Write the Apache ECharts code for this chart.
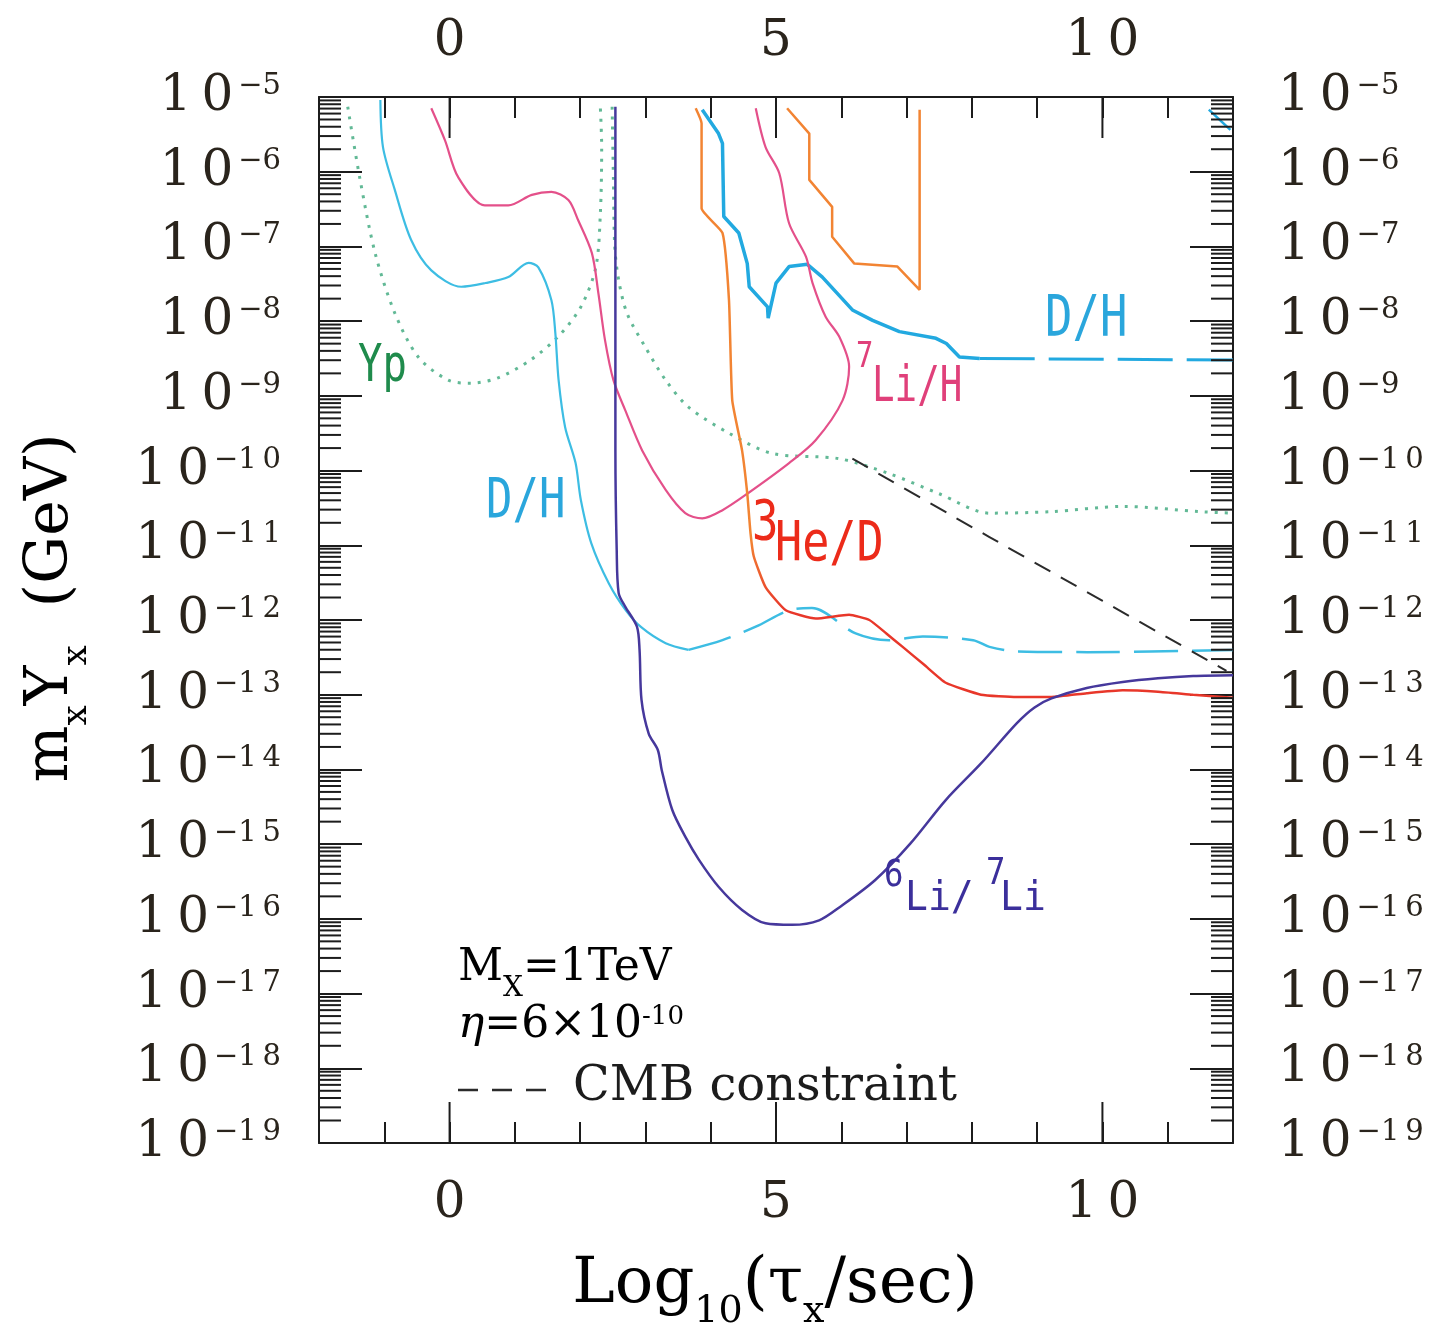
<!DOCTYPE html>
<html>
<head>
<meta charset="utf-8">
<title>m_X Y_X vs lifetime</title>
<script src="https://cdn.jsdelivr.net/npm/echarts@6/dist/echarts.min.js"></script>
<style>
  html, body { margin: 0; padding: 0; background: #fff; }
  #main { width: 1433px; height: 1336px; }
</style>
</head>
<body>
<div id="main"></div>
<script>
// x = log10(tau_X / sec), y = log10(m_X Y_X / GeV)
const xLabels = [0, 5, 10];
const yDecades = [-19, -18, -17, -16, -15, -14, -13, -12, -11, -10, -9, -8, -7, -6, -5];
const minorMult = [2, 3, 4, 5, 6, 7, 8, 9];

// Yp (dotted), two branches
const ypLeft = [[-1.56, -5.13], [-1.37, -6.11], [-1.14, -7.09], [-0.84, -7.89], [-0.48, -8.48], [-0.02, -8.79],
  [0.33, -8.83], [0.74, -8.76], [1.24, -8.52], [1.66, -8.21], [2.01, -7.81], [2.24, -7.28], [2.31, -6.55],
  [2.33, -5.67], [2.31, -5.15]];
const ypRight = [[2.49, -5.13], [2.51, -6.11], [2.53, -7.0], [2.59, -7.45], [2.72, -7.9], [3.0, -8.35],
  [3.31, -8.79], [3.66, -9.15], [4.28, -9.5], [4.94, -9.77], [5.96, -9.84], [6.73, -10.04], [7.5, -10.31],
  [8.27, -10.57], [9.22, -10.55], [10.31, -10.48], [11.5, -10.55], [12.0, -10.57]];

// D/H lower curve, solid part then dashed tail
const dhLow = [[-1.06, -5.04], [-1.02, -5.67], [-0.84, -6.24], [-0.59, -6.91], [-0.28, -7.32], [0.18, -7.54],
  [0.55, -7.49], [0.9, -7.41], [1.21, -7.22], [1.36, -7.28], [1.56, -7.72], [1.62, -8.16], [1.67, -8.79],
  [1.77, -9.42], [1.93, -9.9], [2.01, -10.39], [2.17, -10.97], [2.44, -11.51], [2.7, -11.87], [2.94, -12.1],
  [3.31, -12.31], [3.66, -12.4]];
const dhLowTail = [[3.66, -12.4], [4.18, -12.27], [4.69, -12.09], [5.2, -11.87], [5.55, -11.84], [6.22, -12.18],
  [6.73, -12.27], [7.25, -12.22], [8.02, -12.27], [8.27, -12.36], [8.69, -12.42], [9.77, -12.43], [12.0, -12.4]];

// D/H upper curve
const dhHigh = [[3.87, -5.17], [4.12, -5.49], [4.18, -5.62], [4.2, -6.6], [4.43, -6.82], [4.56, -7.23],
  [4.59, -7.54], [4.87, -7.81], [4.88, -7.96], [5.0, -7.49], [5.2, -7.27], [5.48, -7.24], [5.71, -7.41],
  [6.17, -7.85], [6.48, -7.99], [6.89, -8.14], [7.45, -8.23], [7.61, -8.3], [7.81, -8.48], [8.12, -8.5]];
const dhHighTail = [[8.12, -8.5], [12.0, -8.52]];
const dhCorner = [[11.63, -5.17], [11.96, -5.44]];

// 7Li/H
const li7 = [[-0.28, -5.15], [-0.07, -5.58], [0.13, -6.07], [0.54, -6.45], [0.9, -6.45], [1.26, -6.31],
  [1.56, -6.27], [1.82, -6.38], [1.97, -6.65], [2.18, -7.09], [2.28, -7.63], [2.38, -8.25], [2.51, -8.79],
  [2.69, -9.19], [2.95, -9.73], [3.31, -10.26], [3.61, -10.57], [3.87, -10.64], [4.18, -10.53], [4.56, -10.31],
  [5.2, -9.9], [5.61, -9.59], [6.02, -9.06], [6.12, -8.61], [5.97, -8.21], [5.76, -7.94], [5.56, -7.49],
  [5.46, -7.14], [5.2, -6.69], [5.05, -6.02], [4.84, -5.67], [4.69, -5.15]];

// 3He/D
const he3 = [[3.77, -5.15], [3.86, -5.35], [3.86, -6.49], [4.18, -6.82], [4.28, -7.72], [4.33, -9.06],
  [4.48, -9.73], [4.56, -10.31], [4.61, -10.84], [4.66, -11.15], [4.84, -11.56], [5.15, -11.87], [5.61, -11.98],
  [6.12, -11.93], [6.43, -12.0], [6.69, -12.18], [6.94, -12.36], [7.27, -12.6], [7.6, -12.84], [8.14, -13.0],
  [8.69, -13.03], [9.22, -13.03], [9.76, -12.98], [10.31, -12.94], [10.85, -12.96], [11.39, -13.0], [12.0, -13.04]];
const he3Box = [[5.17, -5.15], [5.51, -5.49], [5.51, -6.11], [5.86, -6.47], [5.86, -6.87], [6.2, -7.23],
  [6.86, -7.27], [7.2, -7.58], [7.2, -5.17]];

// 6Li/7Li
const li6 = [[2.54, -5.13], [2.54, -9.73], [2.56, -11.06], [2.59, -11.64], [2.69, -11.82], [2.87, -12.09],
  [2.91, -12.4], [2.94, -13.07], [3.05, -13.52], [3.19, -13.74], [3.25, -14.01], [3.41, -14.54], [3.61, -14.9],
  [3.82, -15.21], [4.12, -15.57], [4.48, -15.88], [4.84, -16.06], [5.25, -16.08], [5.66, -16.02], [5.98, -15.84],
  [6.52, -15.48], [7.06, -14.99], [7.6, -14.41], [8.14, -13.92], [8.69, -13.38], [8.96, -13.17], [9.22, -13.05],
  [9.76, -12.91], [10.31, -12.83], [10.85, -12.78], [11.39, -12.75], [12.0, -12.74]];

// CMB constraint
const cmb = [[6.17, -9.84], [8.27, -10.89], [11.9, -12.68]];

const SERIF = '"DejaVu Serif", "Liberation Serif", serif';
const MONO = '"DejaVu Sans Mono", "Liberation Mono", monospace';
const INK = '#1c1c1c';
const TICK_TXT = '#2a241c';

const X_MIN = -2, X_MAX = 12, Y_MIN = -19, Y_MAX = -5;

const chart = echarts.init(document.getElementById('main'), null, { renderer: 'canvas' });

function spaced(s) {
  return String(s).split('').join('\u2009');
}

function curve(name, data, color, width, type, smooth) {
  return {
    name: name,
    type: 'line',
    data: data,
    symbol: 'none',
    smooth: smooth || false,
    lineStyle: { color: color, width: width, type: type || 'solid' },
    silent: true,
    z: 3
  };
}

function tag(text, x, y, size, color, sx) {
  return {
    type: 'text', x: x, y: y, scaleX: sx, z: 50, silent: true,
    style: { text: text, fill: color, fontFamily: MONO, fontSize: size, align: 'left', verticalAlign: 'middle' }
  };
}

const yMinor = [];
yDecades.slice(0, -1).forEach(function (d) {
  minorMult.forEach(function (k) { yMinor.push([X_MIN, d + Math.log10(k)]); });
});

function xAxisOf(pos, margin) {
  return {
    type: 'value', position: pos, min: X_MIN, max: X_MAX, interval: 1,
    axisLine: { onZero: false, lineStyle: { color: INK, width: 2 } },
    axisTick: { inside: true, length: 21, lineStyle: { color: INK, width: 2 } },
    splitLine: { show: false },
    axisLabel: {
      margin: margin, fontFamily: SERIF, fontSize: 50, color: TICK_TXT,
      formatter: function (v) { return xLabels.indexOf(v) >= 0 ? spaced(v) : ''; }
    }
  };
}

function yAxisOf(pos, margin) {
  return {
    type: 'value', position: pos, min: Y_MIN, max: Y_MAX, interval: 1,
    axisLine: { onZero: false, lineStyle: { color: INK, width: 2 } },
    axisTick: { inside: true, length: 43, lineStyle: { color: INK, width: 2 } },
    splitLine: { show: false },
    axisLabel: {
      margin: margin,
      formatter: function (v) { return '{b|' + spaced(10) + '}{s|\u2212' + spaced(-v) + '}'; },
      rich: {
        b: { fontFamily: SERIF, fontSize: 50, color: TICK_TXT },
        s: { fontFamily: SERIF, fontSize: 29, color: TICK_TXT, verticalAlign: 'top', padding: [0, 0, 0, 5] }
      }
    }
  };
}

const he3Color = new echarts.graphic.LinearGradient(0, 0, 0, 1, [
  { offset: 0, color: '#f28433' },
  { offset: 0.73, color: '#f28433' },
  { offset: 0.85, color: '#e8372a' },
  { offset: 1, color: '#e8372a' }
]);

var option = {
  backgroundColor: '#ffffff',
  animation: false,
  grid: { left: 319, top: 97, width: 914, height: 1046, containLabel: false, outerBoundsMode: 'none' },
  xAxis: [xAxisOf('bottom', 36), xAxisOf('top', 30)],
  yAxis: [yAxisOf('left', 38), yAxisOf('right', 45)],
  series: [
    curve('Yp', ypLeft, '#62b996', 3, [3, 7], 0.3),
    curve('Yp', ypRight, '#62b996', 3, [3, 7], 0.3),
    curve('D/H', dhLow, '#3dbde3', 2.2, 'solid', 0.3),
    curve('D/H', dhLowTail, '#3dbde3', 2.5, [44, 14], 0.3),
    curve('D/H', dhHigh, '#22a9e0', 3.5, 'solid', false),
    curve('D/H', dhHighTail, '#22a9e0', 3, [55, 14], false),
    curve('D/H', dhCorner, '#22a9e0', 2.5, 'solid', false),
    curve('7Li/H', li7, '#e4508a', 2.2, 'solid', 0.3),
    curve('3He/D', he3, he3Color, 2.5, 'solid', 0.15),
    curve('3He/D', he3Box, '#f28433', 2.5, 'solid', false),
    curve('6Li/7Li', li6, '#46389c', 2.5, 'solid', 0.3),
    curve('CMB', cmb, '#2b2b2b', 2, [18, 12], 0.2),
    {
      // log minor ticks on both y axes
      type: 'custom',
      data: yMinor,
      silent: true,
      z: 10,
      renderItem: function (params, api) {
        const e = api.value(1);
        const l = api.coord([X_MIN, e]);
        const r = api.coord([X_MAX, e]);
        const st = { stroke: INK, lineWidth: 2 };
        return {
          type: 'group',
          children: [
            { type: 'line', shape: { x1: l[0], y1: l[1], x2: l[0] + 22, y2: l[1] }, style: st },
            { type: 'line', shape: { x1: r[0] - 22, y1: r[1], x2: r[0], y2: r[1] }, style: st }
          ]
        };
      }
    },
    {
      // long ticks at labelled x values
      type: 'custom',
      data: xLabels.map(function (v) { return [v, Y_MIN]; }),
      silent: true,
      z: 10,
      renderItem: function (params, api) {
        const v = api.value(0);
        const b = api.coord([v, Y_MIN]);
        const t = api.coord([v, Y_MAX]);
        const st = { stroke: INK, lineWidth: 2 };
        return {
          type: 'group',
          children: [
            { type: 'line', shape: { x1: b[0], y1: b[1], x2: b[0], y2: b[1] - 41 }, style: st },
            { type: 'line', shape: { x1: t[0], y1: t[1], x2: t[0], y2: t[1] + 41 }, style: st }
          ]
        };
      }
    }
  ],
  graphic: {
    elements: [
      tag('Yp', 358, 367, 52, '#1f8b4c', 0.78),
      tag('D/H', 486, 503, 55, '#2aa6dc', 0.8),
      tag('D/H', 1045, 321, 57, '#2aa6dc', 0.8),
      tag('7', 856, 358, 36, '#e0407a', 0.8),
      tag('Li/H', 872, 388, 50, '#e0407a', 0.75),
      tag('3', 752, 525, 55, '#ec2b1a', 0.8),
      tag('He/D', 775, 546, 55, '#ec2b1a', 0.82),
      tag('6', 884, 876, 38, '#3b2f9b', 0.85),
      tag('Li/', 905, 900, 40, '#3b2f9b', 0.95),
      tag('7', 986, 874, 38, '#3b2f9b', 0.85),
      tag('Li', 1000, 900, 40, '#3b2f9b', 0.95),
      {
        type: 'text', x: 458, y: 975, silent: true, z: 50,
        style: {
          text: '{n|M}{sub|X}{n|=1TeV}', align: 'left', verticalAlign: 'middle',
          rich: {
            n: { fontFamily: SERIF, fontSize: 44, color: INK, padding: [0, 0, 12, 0] },
            sub: { fontFamily: SERIF, fontSize: 28, color: INK, verticalAlign: 'bottom' }
          }
        }
      },
      {
        type: 'text', x: 458, y: 1026, silent: true, z: 50,
        style: {
          text: '{i|\u03b7}{n|=6\u00d710}{sup|-10}', align: 'left', verticalAlign: 'middle',
          rich: {
            i: { fontFamily: SERIF, fontStyle: 'italic', fontSize: 44, color: INK },
            n: { fontFamily: SERIF, fontSize: 44, color: INK },
            sup: { fontFamily: SERIF, fontSize: 26, color: INK, verticalAlign: 'top' }
          }
        }
      },
      {
        type: 'line', silent: true, z: 50,
        shape: { x1: 458, y1: 1090, x2: 550, y2: 1090 },
        style: { stroke: '#2b2b2b', lineWidth: 2.5, lineDash: [20, 14] }
      },
      {
        type: 'text', x: 573, y: 1088, silent: true, z: 50,
        style: { text: 'CMB constraint', fontFamily: SERIF, fontSize: 48, fill: INK, align: 'left', verticalAlign: 'middle' }
      },
      {
        type: 'text', x: 775, y: 1292, silent: true, z: 50,
        style: {
          text: '{n|Log}{sub|10}{n|(\u03c4}{sub|x}{n|/sec)}', align: 'center', verticalAlign: 'middle',
          rich: {
            n: { fontFamily: SERIF, fontSize: 64, color: INK, padding: [0, 0, 14, 0] },
            sub: { fontFamily: SERIF, fontSize: 38, color: INK, verticalAlign: 'bottom' }
          }
        }
      },
      {
        type: 'text', x: 58, y: 608, rotation: Math.PI / 2, silent: true, z: 50,
        style: {
          text: '{n|m}{sub|x}{n|Y}{sub|x}{n|  (GeV)}', align: 'center', verticalAlign: 'middle',
          rich: {
            n: { fontFamily: SERIF, fontSize: 60, color: INK, padding: [0, 0, 14, 0] },
            sub: { fontFamily: SERIF, fontSize: 36, color: INK, verticalAlign: 'bottom' }
          }
        }
      }
    ]
  }
};

chart.setOption(option);
</script>
</body>
</html>
